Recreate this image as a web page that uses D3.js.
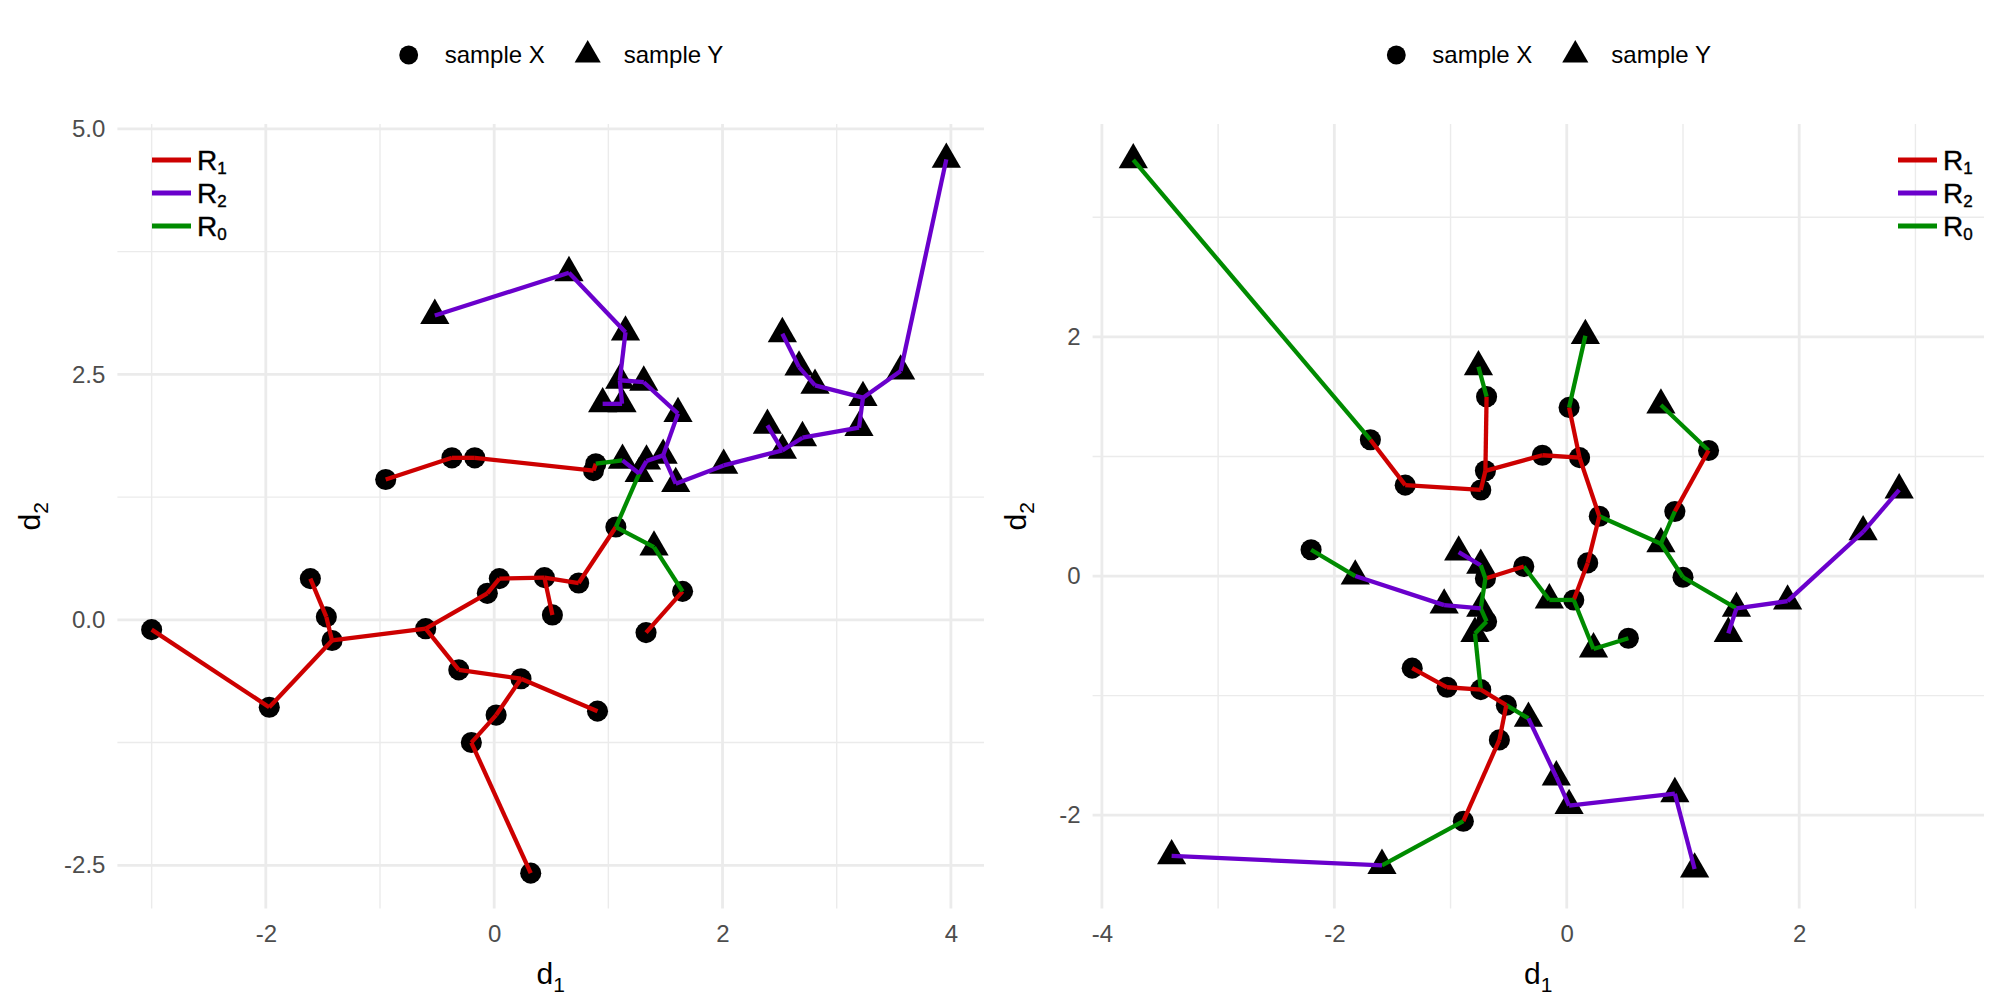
<!DOCTYPE html>
<html>
<head>
<meta charset="utf-8">
<script src="https://cdn.jsdelivr.net/npm/d3@7"></script>
<style>
	body { margin: 0; background: #ffffff; }
	svg { display: block; font-family: "Liberation Sans", Arial, Helvetica, sans-serif; }
</style>
</head>
<body>
<svg id="chart" width="2000" height="1000"></svg>
<script>

/* Two minimum spanning trees of pooled samples X and Y.
Edges joining two X points are R1, two Y points R2, mixed R0 */

// Left panel: point coordinates (first 25 sample X, last 25 sample Y)
var leftX = [-3.00, -1.97, -1.61, -1.47, -1.42, -0.60, -0.06, 0.045, 0.44, 0.51,
	0.74, -0.31, 0.235, 0.905, 0.017, -0.20, 0.32, 1.066, 1.33, 1.65,
	0.87, 0.89, -0.17, -0.37, -0.95,
	-0.52, 0.655, 1.15, 1.10, 1.12, 0.95, 1.31, 1.61, 1.48, 1.334,
	1.27, 1.124, 1.59, 2.01, 2.524, 2.393, 2.70, 3.195, 3.23, 2.81,
	2.67, 2.524, 3.56, 3.96, 1.40];
var leftY = [-0.10, -0.89, 0.42, 0.03, -0.21, -0.09, 0.27, 0.42, 0.43, 0.05,
	0.375, -0.51, -0.60, -0.93, -0.97, -1.25, -2.58, 0.945, -0.13, 0.29,
	1.52, 1.59, 1.65, 1.65, 1.43,
	3.10, 3.535, 2.93, 2.44, 2.20, 2.20, 2.42, 2.10, 1.675, 1.617,
	1.49, 1.624, 1.387, 1.573, 1.726, 1.98, 1.855, 1.957, 2.263, 2.388,
	2.574, 2.914, 2.534, 4.69, 0.74];
var leftSample = ['X','X','X','X','X','X','X','X','X','X','X','X','X','X','X',
	'X','X','X','X','X','X','X','X','X','X',
	'Y','Y','Y','Y','Y','Y','Y','Y','Y','Y','Y','Y','Y','Y','Y',
	'Y','Y','Y','Y','Y','Y','Y','Y','Y','Y'];
var leftEdges = [[0,1],[1,4],[2,3],[3,4],[4,5],[5,6],[6,7],[7,8],[8,9],[8,10],
	[10,17],[5,11],[11,12],[12,13],[12,14],[14,15],[15,16],[18,19],[20,21],[20,22],
	[22,23],[23,24],[17,49],[49,19],[17,35],[36,21],[25,26],[26,27],[27,28],[28,29],
	[29,30],[28,31],[31,32],[32,33],[33,34],[34,35],[35,36],[33,37],[37,38],[38,39],
	[39,40],[39,41],[41,42],[42,43],[43,44],[44,45],[45,46],[43,47],[47,48]];

// Right panel: point coordinates (first 25 sample X, last 25 sample Y)
var rightX = [-1.69, -1.39, -0.74, -0.70, -0.69, -0.21, 0.11, 0.02, 0.28, 1.22,
	0.93, 1.00, 0.18, 0.06, -0.37, 0.53, -0.70, -0.69, -2.20, -1.33,
	-1.03, -0.74, -0.52, -0.58, -0.89,
	-3.73, -0.76, 0.16, 0.81, 2.86, 0.81, 1.46, 1.90, 1.39, 2.55,
	-0.15, 0.23, -0.93, -0.74, -0.74, -0.79, -1.055, -1.82, -0.33, -1.59,
	-3.40, -0.09, 0.02, 0.93, 1.10];
var rightY = [1.14, 0.76, 0.72, 0.88, 1.50, 1.01, 0.99, 1.41, 0.50, 1.05,
	0.54, -0.01, 0.11, -0.20, 0.08, -0.52, -0.02, -0.38, 0.22, -0.77,
	-0.93, -0.95, -1.08, -1.37, -2.05,
	3.48, 1.75, 2.01, 1.43, 0.72, 0.27, -0.27, -0.21, -0.48, 0.37,
	-0.20, -0.61, 0.20, 0.09, -0.27, -0.48, -0.243, 0.00, -1.19, -2.42,
	-2.34, -1.68, -1.92, -1.82, -2.45];
var rightSample = leftSample.slice();
var rightEdges = [[25,0],[0,1],[1,2],[2,3],[3,4],[4,26],[3,5],[5,6],[7,6],[7,27],
	[6,8],[28,9],[9,10],[8,30],[10,30],[30,11],[11,31],[31,32],[31,33],[32,34],
	[34,29],[8,12],[12,13],[13,35],[35,14],[13,36],[36,15],[14,16],[37,38],[38,16],
	[16,39],[39,17],[17,40],[40,21],[39,41],[41,42],[42,18],[19,20],[20,21],[21,22],
	[22,43],[22,23],[23,24],[24,44],[44,45],[43,46],[46,47],[47,48],[48,49]];

// Axis limits and tick values
var leftXLim = [-3.30, 4.29];
var leftYLim = [-2.94, 5.05];
var leftXTicks = [-2, 0, 2, 4];
var leftXMinor = [-3, -1, 1, 3];
var leftYTicks = [-2.5, 0, 2.5, 5];
var leftYMinor = [-1.25, 1.25, 3.75];

var rightXLim = [-4.08, 3.59];
var rightYLim = [-2.78, 3.78];
var rightXTicks = [-4, -2, 0, 2];
var rightXMinor = [-3, -1, 1, 3];
var rightYTicks = [-2, 0, 2];
var rightYMinor = [-1, 1, 3];

// Edge types, colours and legend labels
var edgeTypes = ['R1', 'R2', 'R0'];
var edgeColours = ['#CD0000', '#6A00CC', '#008B00'];
var sampleLabels = ['sample X', 'sample Y'];

// Shared layout
var panelTop = 124;
var panelBottom = 908.5;
var gridColour = '#EBEBEB';

var svg = d3.select('#chart');

// Edge type from the samples of its two ends
function edgeType(sample, e) {
	var a = sample[e[0]], b = sample[e[1]];
	if (a == 'X' && b == 'X') return 'R1';
	if (a == 'Y' && b == 'Y') return 'R2';
	return 'R0';
}

var colour = d3.scaleOrdinal().domain(edgeTypes).range(edgeColours);
var shape = d3.scaleOrdinal().domain(['X', 'Y']).range([d3.symbolCircle, d3.symbolTriangle]);
var shapeSize = d3.scaleOrdinal().domain(['X', 'Y']).range([350, 370]);

function drawPanel(p) {

	var x = d3.scaleLinear().domain(p.xLim).range([p.left, p.right]);
	var y = d3.scaleLinear().domain(p.yLim).range([panelBottom, panelTop]);
	var g = svg.append('g').attr('class', 'panel');

	// Minor gridlines
	g.selectAll('.vminor').data(p.xMinor).enter().append('line')
		.attr('x1', function(d) { return x(d); })
		.attr('x2', function(d) { return x(d); })
		.attr('y1', panelTop).attr('y2', panelBottom)
		.attr('stroke', gridColour).attr('stroke-width', 1.4);
	g.selectAll('.hminor').data(p.yMinor).enter().append('line')
		.attr('y1', function(d) { return y(d); })
		.attr('y2', function(d) { return y(d); })
		.attr('x1', p.left).attr('x2', p.right)
		.attr('stroke', gridColour).attr('stroke-width', 1.4);

	// Major gridlines
	g.selectAll('.vmajor').data(p.xTicks).enter().append('line')
		.attr('x1', function(d) { return x(d); })
		.attr('x2', function(d) { return x(d); })
		.attr('y1', panelTop).attr('y2', panelBottom)
		.attr('stroke', gridColour).attr('stroke-width', 2.8);
	g.selectAll('.hmajor').data(p.yTicks).enter().append('line')
		.attr('y1', function(d) { return y(d); })
		.attr('y2', function(d) { return y(d); })
		.attr('x1', p.left).attr('x2', p.right)
		.attr('stroke', gridColour).attr('stroke-width', 2.8);

	// Axes (labels only)
	var xAxis = g.append('g')
		.attr('transform', 'translate(0,' + panelBottom + ')')
		.call(d3.axisBottom(x).tickValues(p.xTicks).tickSize(0).tickPadding(16)
			.tickFormat(function(d) { return String(d); }));
	var yAxis = g.append('g')
		.attr('transform', 'translate(' + p.left + ',0)')
		.call(d3.axisLeft(y).tickValues(p.yTicks).tickSize(0).tickPadding(12)
			.tickFormat(p.yFormat));
	[xAxis, yAxis].forEach(function(a) {
		a.select('.domain').remove();
		a.attr('font-family', null).attr('font-size', null);
		a.selectAll('text').attr('fill', '#4D4D4D').style('font-size', '24px');
	});

	// Axis titles
	var xt = g.append('text')
		.attr('x', (p.left + p.right) / 2)
		.attr('y', 984)
		.attr('text-anchor', 'middle')
		.style('font-size', '30px')
		.text('d');
	xt.append('tspan').attr('dy', 8).style('font-size', '21px').text('1');

	var yt = g.append('text')
		.attr('transform', 'translate(' + p.titleX + ',' + ((panelTop + panelBottom) / 2) + ')rotate(-90)')
		.attr('text-anchor', 'middle')
		.style('font-size', '30px')
		.text('d');
	yt.append('tspan').attr('dy', 8).style('font-size', '21px').text('2');

	// Points
	var nodes = p.xs.map(function(v, i) { return {x: v, y: p.ys[i], s: p.sample[i]}; });
	g.selectAll('.pt').data(nodes).enter().append('path')
		.attr('class', 'pt')
		.attr('d', function(d) { return d3.symbol().type(shape(d.s)).size(shapeSize(d.s))(); })
		.attr('transform', function(d) { return 'translate(' + x(d.x) + ',' + y(d.y) + ')'; })
		.attr('fill', '#000000');

	// Edges on top of the points
	g.selectAll('.edge').data(p.edges).enter().append('line')
		.attr('class', 'edge')
		.attr('x1', function(e) { return x(p.xs[e[0]]); })
		.attr('y1', function(e) { return y(p.ys[e[0]]); })
		.attr('x2', function(e) { return x(p.xs[e[1]]); })
		.attr('y2', function(e) { return y(p.ys[e[1]]); })
		.attr('stroke', function(e) { return colour(edgeType(p.sample, e)); })
		.attr('stroke-width', 4.3)
		.attr('stroke-linecap', 'butt');

	// Edge legend inside the panel
	var leg = g.append('g').attr('transform', 'translate(' + p.legendX + ',0)');
	var rows = leg.selectAll('.row').data(edgeTypes).enter().append('g')
		.attr('transform', function(d, i) { return 'translate(0,' + (160 + i * 33) + ')'; });
	rows.append('line')
		.attr('x1', 0).attr('x2', 39).attr('y1', 0).attr('y2', 0)
		.attr('stroke', function(d) { return colour(d); })
		.attr('stroke-width', 5);
	var lab = rows.append('text')
		.attr('x', 45).attr('y', 9.5)
		.attr('stroke', '#000000').attr('stroke-width', 0.4)
		.style('font-size', '28px')
		.text(function(d) { return d.charAt(0); });
	lab.append('tspan').attr('dy', 4).style('font-size', '17px')
		.text(function(d) { return d.slice(1); });

	// Sample legend above the panel
	var c = (p.left + p.right) / 2 + 14;
	var top = svg.append('g').attr('transform', 'translate(' + c + ',55)');
	var items = top.selectAll('.item').data(sampleLabels).enter().append('g')
		.attr('transform', function(d, i) { return 'translate(' + (i == 0 ? -156 : 23) + ',0)'; });
	items.append('path')
		.attr('d', function(d, i) {
			var s = i == 0 ? 'X' : 'Y';
			return d3.symbol().type(shape(s)).size(shapeSize(s) * 0.8)();
		})
		.attr('fill', '#000000');
	items.append('text')
		.attr('x', 36).attr('y', 8)
		.style('font-size', '24px')
		.text(function(d) { return d; });
}

drawPanel({
	xs: leftX, ys: leftY, sample: leftSample, edges: leftEdges,
	xLim: leftXLim, yLim: leftYLim,
	xTicks: leftXTicks, xMinor: leftXMinor, yTicks: leftYTicks, yMinor: leftYMinor,
	yFormat: function(d) { return d.toFixed(1); },
	left: 117.4, right: 984, titleX: 40, legendX: 152
});

drawPanel({
	xs: rightX, ys: rightY, sample: rightSample, edges: rightEdges,
	xLim: rightXLim, yLim: rightYLim,
	xTicks: rightXTicks, xMinor: rightXMinor, yTicks: rightYTicks, yMinor: rightYMinor,
	yFormat: function(d) { return String(d); },
	left: 1092.6, right: 1984, titleX: 1026, legendX: 1898
});

</script>
</body>
</html>
